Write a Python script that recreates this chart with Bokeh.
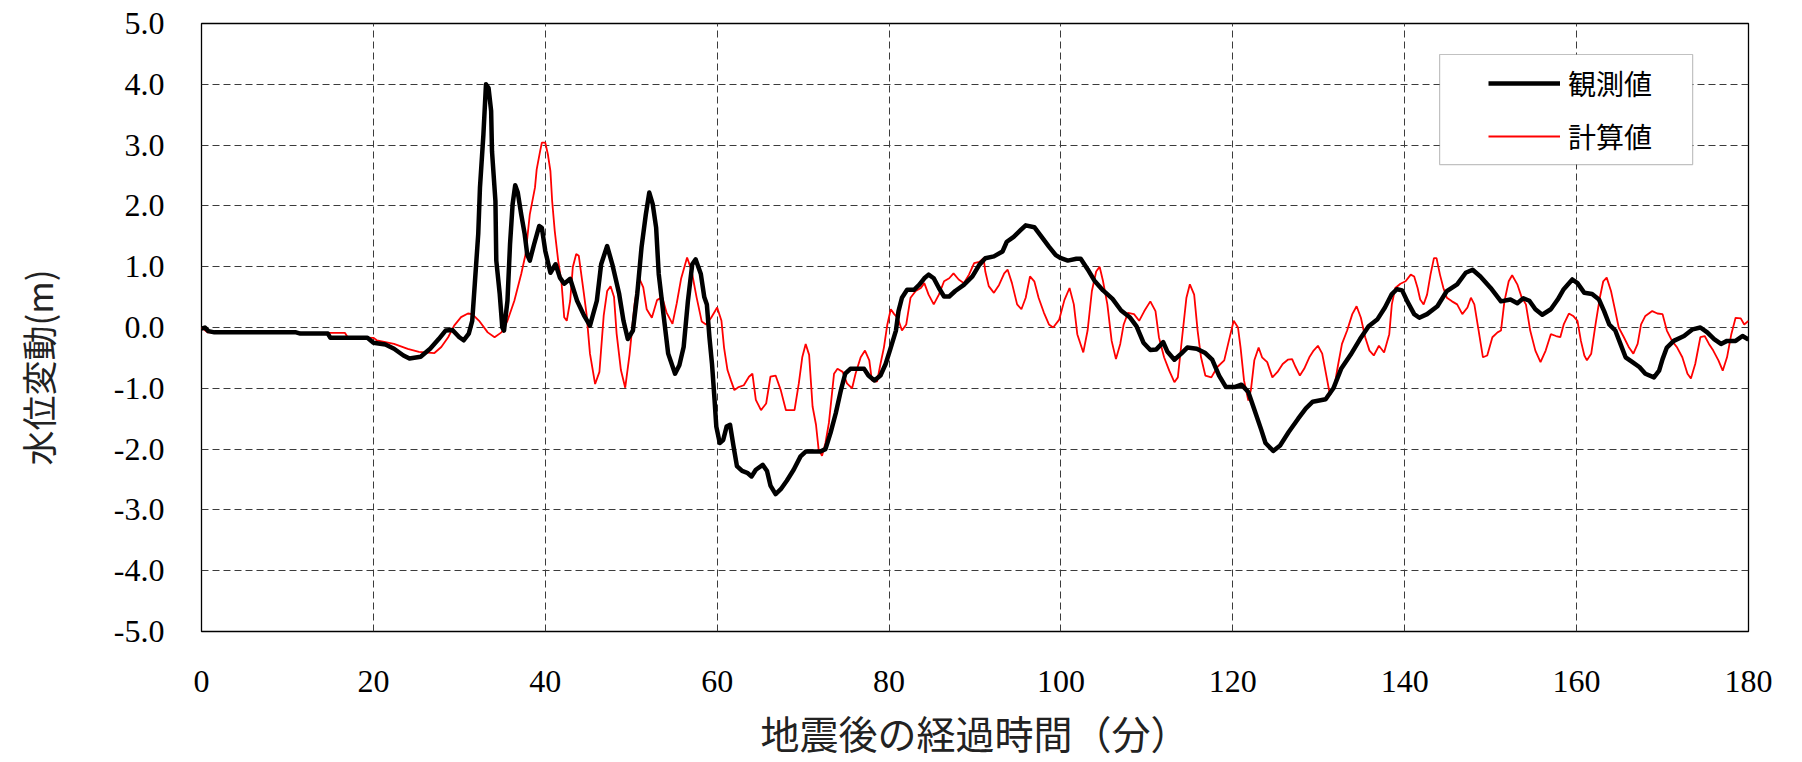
from bokeh.plotting import figure
from bokeh.models import (FixedTicker, PrintfTickFormatter, Legend, LegendItem,
                          BoxAnnotation, Range1d, Title)
from bokeh.embed import file_html
from bokeh.resources import INLINE

# ---- data (minutes after earthquake, water level change in m) ----
obs_t = [0.0, 0.4, 0.8, 1.5, 3.8, 11.0, 11.5, 14.7, 15.0, 19.3, 20.0, 21.4, 22.4, 23.5, 24.2,
         25.5, 26.6, 27.6, 28.4, 29.2, 30.0, 30.5, 31.1, 31.5, 31.8, 32.2, 32.4, 32.8, 33.1,
         33.4, 33.7, 33.8, 34.2, 34.3, 34.7, 35.0, 35.2, 35.6, 35.9, 36.2, 36.5, 36.8, 37.2,
         37.6, 37.9, 38.2, 38.7, 39.3, 39.6, 40.0, 40.6, 41.2, 41.7, 42.2, 42.9, 43.7, 44.5,
         45.2, 46.0, 46.5, 47.2, 47.8, 48.6, 49.1, 49.6, 50.2, 50.7, 51.2, 51.7, 52.1, 52.5,
         52.9, 53.2, 53.8, 54.3, 55.1, 55.6, 56.1, 56.6, 57.1, 57.5, 58.1, 58.5, 58.8, 59.1,
         59.4, 59.7, 59.9, 60.3, 60.7, 61.1, 61.5, 61.9, 62.3, 62.9, 63.5, 64.0, 64.5, 65.3,
         65.8, 66.2, 66.8, 67.4, 68.1, 68.9, 69.7, 70.3, 72.0, 72.6, 73.2, 73.8, 74.4, 74.9,
         75.5, 77.1, 77.6, 78.3, 79.0, 79.6, 80.2, 80.8, 81.1, 81.5, 82.1, 82.9, 83.5, 84.1,
         84.6, 85.2, 85.8, 86.4, 87.0, 87.7, 88.7, 89.7, 90.5, 91.2, 92.2, 93.2, 93.7, 94.5,
         95.3, 95.9, 96.9, 97.6, 98.6, 99.4, 100.0, 100.8, 101.8, 102.3, 103.1, 103.9, 104.9,
         106.0, 107.0, 108.0, 108.8, 109.6, 110.4, 111.1, 111.9, 112.4, 113.2, 114.0, 114.7,
         115.8, 116.8, 117.6, 118.4, 119.2, 120.2, 121.0, 121.8, 122.5, 123.3, 123.8, 124.7,
         125.5, 126.5, 127.6, 128.5, 129.3, 130.8, 131.7, 132.6, 133.7, 134.8, 135.8, 136.8,
         137.7, 138.5, 139.1, 139.7, 140.3, 141.1, 141.7, 142.6, 143.8, 144.9, 146.1, 147.1,
         147.9, 148.8, 150.0, 151.2, 152.3, 153.1, 153.8, 154.5, 155.2, 156.0, 157.0, 157.8,
         158.5, 159.5, 160.1, 160.9, 161.8, 162.6, 163.2, 163.8, 164.5, 165.1, 165.7, 166.5,
         167.3, 168.0, 169.0, 169.6, 170.0, 170.5, 171.3, 172.5, 173.5, 174.4, 175.2, 176.0,
         176.8, 177.5, 178.5, 179.3, 180.0]
obs_v = [-0.02, 0.0, -0.06, -0.08, -0.08, -0.08, -0.1, -0.1, -0.17, -0.17, -0.25, -0.28, -0.35,
         -0.46, -0.51, -0.48, -0.35, -0.19, -0.05, -0.04, -0.16, -0.21, -0.1, 0.11, 0.72, 1.54,
         2.3, 3.17, 4.0, 3.94, 3.56, 2.9, 2.08, 1.1, 0.55, 0.0, -0.05, 0.44, 1.37, 2.03, 2.34,
         2.22, 1.86, 1.54, 1.2, 1.1, 1.37, 1.67, 1.64, 1.26, 0.9, 1.04, 0.82, 0.72, 0.8, 0.44,
         0.2, 0.03, 0.44, 1.04, 1.34, 1.04, 0.55, 0.11, -0.19, -0.05, 0.55, 1.32, 1.86, 2.22,
         2.03, 1.64, 0.88, 0.16, -0.43, -0.76, -0.62, -0.32, 0.44, 1.04, 1.12, 0.88, 0.5, 0.38,
         -0.16, -0.6, -1.2, -1.63, -1.9, -1.85, -1.63, -1.6, -1.95, -2.28, -2.36, -2.39, -2.45,
         -2.34, -2.26, -2.36, -2.6, -2.74, -2.66, -2.52, -2.34, -2.12, -2.04, -2.04, -2.0,
         -1.73, -1.41, -1.03, -0.76, -0.68, -0.68, -0.79, -0.87, -0.79, -0.6, -0.33, -0.05,
         0.27, 0.49, 0.62, 0.62, 0.7, 0.81, 0.87, 0.81, 0.65, 0.51, 0.51, 0.6, 0.7, 0.84, 1.03,
         1.14, 1.17, 1.25, 1.41, 1.49, 1.6, 1.68, 1.65, 1.52, 1.33, 1.19, 1.14, 1.1, 1.13, 1.13,
         0.96, 0.77, 0.61, 0.47, 0.28, 0.17, 0.02, -0.25, -0.37, -0.36, -0.24, -0.4, -0.53,
         -0.43, -0.33, -0.35, -0.42, -0.53, -0.79, -0.98, -0.98, -0.94, -1.06, -1.35, -1.68,
         -1.9, -2.03, -1.94, -1.72, -1.5, -1.33, -1.22, -1.18, -1.0, -0.68, -0.45, -0.19, 0.02,
         0.13, 0.33, 0.55, 0.63, 0.61, 0.43, 0.22, 0.16, 0.22, 0.35, 0.6, 0.71, 0.9, 0.95, 0.84,
         0.65, 0.43, 0.46, 0.4, 0.48, 0.44, 0.3, 0.21, 0.3, 0.46, 0.63, 0.79, 0.73, 0.57, 0.55,
         0.46, 0.27, 0.05, -0.05, -0.27, -0.49, -0.57, -0.65, -0.76, -0.82, -0.71, -0.52, -0.33,
         -0.22, -0.14, -0.03, 0.0, -0.08, -0.19, -0.27, -0.22, -0.22, -0.14, -0.2]

calc_t = [0.0, 0.7, 3.8, 16.7, 17.0, 20.0, 20.4, 22.4, 24.0, 25.3, 27.1, 27.9, 28.7, 29.4, 30.2,
          31.0, 31.5, 32.3, 33.3, 34.1, 34.9, 35.6, 36.4, 37.2, 37.7, 38.2, 38.8, 39.0, 39.4,
          39.6, 40.0, 40.3, 40.6, 40.8, 41.1, 41.5, 41.9, 42.2, 42.5, 42.9, 43.2, 43.6, 43.9,
          44.5, 44.8, 45.2, 45.8, 46.3, 46.8, 47.2, 47.6, 48.0, 48.3, 48.8, 49.3, 49.8, 50.4,
          50.9, 51.4, 51.8, 52.4, 53.0, 53.6, 54.1, 54.8, 55.3, 55.8, 56.5, 57.0, 57.6, 58.2,
          58.7, 59.3, 60.0, 60.5, 60.8, 61.2, 61.6, 62.0, 62.5, 63.1, 63.7, 64.1, 64.5, 65.1,
          65.7, 66.2, 66.8, 67.4, 68.0, 69.0, 69.5, 69.9, 70.3, 70.7, 71.1, 71.5, 71.8, 72.2,
          72.6, 73.0, 73.4, 73.6, 74.0, 74.6, 75.1, 75.7, 76.1, 76.7, 77.2, 77.7, 78.0, 78.6,
          79.0, 79.4, 79.8, 80.2, 80.6, 81.0, 81.5, 82.0, 82.5, 83.1, 83.7, 84.1, 84.6, 85.2,
          85.8, 86.4, 87.0, 87.5, 88.1, 88.7, 89.3, 89.9, 90.5, 91.0, 91.2, 91.6, 92.2, 92.8,
          93.4, 93.8, 94.3, 94.9, 95.4, 95.9, 96.4, 96.9, 97.4, 98.0, 98.6, 99.1, 99.8, 100.4,
          101.0, 101.5, 101.9, 102.6, 103.1, 103.6, 104.1, 104.5, 104.9, 105.4, 105.9, 106.4,
          106.9, 107.3, 107.8, 108.5, 109.1, 109.7, 110.4, 111.0, 111.4, 112.0, 112.6, 113.2,
          113.6, 114.1, 114.6, 115.0, 115.5, 115.9, 116.3, 116.8, 117.5, 118.2, 119.0, 119.5,
          120.1, 120.6, 120.9, 121.3, 121.8, 122.1, 122.5, 123.0, 123.4, 124.0, 124.6, 125.2,
          125.8, 126.4, 126.9, 127.3, 127.8, 128.3, 128.9, 129.4, 129.9, 130.4, 130.8, 131.3,
          131.8, 132.2, 132.7, 133.3, 133.9, 134.4, 134.9, 135.4, 135.9, 136.4, 137.0, 137.6,
          138.2, 138.5, 138.9, 139.5, 140.1, 140.7, 141.1, 141.5, 141.8, 142.2, 142.6, 143.0,
          143.4, 143.7, 144.1, 144.5, 144.9, 145.5, 146.1, 146.7, 147.3, 147.7, 148.1, 148.6,
          149.1, 149.6, 150.2, 150.8, 151.2, 151.6, 152.1, 152.5, 153.1, 153.6, 154.1, 154.6,
          155.2, 155.8, 156.4, 157.0, 157.6, 158.1, 158.5, 159.1, 159.6, 160.1, 160.5, 160.9,
          161.2, 161.7, 162.2, 162.7, 163.1, 163.5, 164.0, 164.5, 164.9, 165.5, 166.1, 166.6,
          167.1, 167.5, 168.0, 168.8, 169.4, 170.0, 170.5, 171.1, 171.7, 172.3, 172.9, 173.3,
          173.8, 174.4, 174.9, 175.4, 175.9, 176.5, 177.0, 177.5, 178.0, 178.5, 179.1, 179.5,
          180.0]
calc_v = [0.0, -0.08, -0.09, -0.09, -0.16, -0.17, -0.21, -0.27, -0.35, -0.4, -0.42, -0.32, -0.16,
          0.03, 0.17, 0.23, 0.22, 0.11, -0.08, -0.16, -0.08, 0.11, 0.44, 0.88, 1.2, 1.86, 2.3,
          2.6, 2.9, 3.04, 3.04, 2.85, 2.57, 2.08, 1.59, 1.1, 0.72, 0.17, 0.11, 0.44, 0.99, 1.21,
          1.18, 0.55, 0.22, -0.43, -0.93, -0.73, 0.2, 0.6, 0.68, 0.5, -0.1, -0.7, -0.99, -0.45,
          0.4, 0.82, 0.66, 0.3, 0.16, 0.45, 0.5, 0.25, 0.06, 0.4, 0.8, 1.15, 0.95, 0.5, 0.1,
          0.05, 0.16, 0.33, 0.11, -0.33, -0.7, -0.87, -1.03, -0.98, -0.95, -0.81, -0.76, -1.19,
          -1.36, -1.25, -0.81, -0.79, -1.03, -1.36, -1.36, -0.92, -0.49, -0.27, -0.45, -1.3,
          -1.6, -2.0, -2.11, -1.9, -1.57, -1.03, -0.76, -0.68, -0.73, -0.92, -1.0, -0.76, -0.49,
          -0.38, -0.54, -0.87, -0.89, -0.6, -0.33, 0.05, 0.3, 0.22, 0.16, -0.05, 0.05, 0.49, 0.6,
          0.65, 0.73, 0.54, 0.38, 0.54, 0.76, 0.81, 0.89, 0.79, 0.73, 0.87, 1.06, 1.08, 1.14,
          0.92, 0.68, 0.57, 0.7, 0.89, 0.95, 0.73, 0.38, 0.3, 0.49, 0.84, 0.76, 0.49, 0.25, 0.05,
          0.0, 0.13, 0.45, 0.65, 0.38, -0.11, -0.41, -0.05, 0.6, 0.92, 1.0, 0.76, 0.38, -0.22,
          -0.52, -0.27, 0.05, 0.24, 0.22, 0.11, 0.27, 0.43, 0.27, -0.16, -0.49, -0.71, -0.9,
          -0.82, -0.16, 0.49, 0.71, 0.54, -0.05, -0.49, -0.79, -0.82, -0.65, -0.54, -0.24, 0.11,
          0.0, -0.33, -0.87, -1.2, -1.03, -0.54, -0.33, -0.49, -0.57, -0.82, -0.73, -0.6, -0.53,
          -0.52, -0.65, -0.79, -0.68, -0.49, -0.38, -0.3, -0.43, -0.73, -1.11, -0.98, -0.65,
          -0.27, -0.05, 0.22, 0.35, 0.16, -0.16, -0.38, -0.46, -0.3, -0.41, -0.11, 0.38, 0.65,
          0.72, 0.76, 0.87, 0.84, 0.65, 0.46, 0.38, 0.54, 0.87, 1.14, 1.14, 0.87, 0.65, 0.49,
          0.43, 0.38, 0.22, 0.33, 0.49, 0.38, -0.05, -0.49, -0.46, -0.16, -0.08, -0.05, 0.43,
          0.76, 0.86, 0.71, 0.5, 0.38, -0.05, -0.38, -0.57, -0.38, -0.11, -0.14, -0.16, 0.05,
          0.23, 0.19, 0.11, -0.22, -0.46, -0.54, -0.43, 0.05, 0.49, 0.76, 0.82, 0.6, 0.27, 0.0,
          -0.16, -0.33, -0.43, -0.27, 0.05, 0.19, 0.27, 0.23, 0.22, -0.05, -0.22, -0.33, -0.49,
          -0.76, -0.84, -0.6, -0.16, -0.14, -0.27, -0.38, -0.54, -0.71, -0.49, -0.11, 0.16,
          0.15, 0.05, 0.11]

x_ticks = [0, 20, 40, 60, 80, 100, 120, 140, 160, 180]
y_ticks = [-5, -4, -3, -2, -1, 0, 1, 2, 3, 4, 5]
series_labels = ["観測値", "計算値"]
x_title = "地震後の経過時間（分）"
y_title = "水位変動(m)"

SERIF = "Liberation Serif"
JP = "Noto Sans CJK JP"

p = figure(width=1796, height=762, output_backend="svg", toolbar_location=None,
           x_range=Range1d(0, 180), y_range=Range1d(-5, 5),
           min_border_left=201, min_border_right=48, min_border_top=23,
           min_border_bottom=131)
p.background_fill_color = "white"
p.border_fill_color = "white"
p.outline_line_color = "black"
p.outline_line_width = 1.3

for ax in (p.xaxis[0], p.yaxis[0]):
    ax.axis_line_color = None
    ax.major_tick_line_color = None
    ax.minor_tick_line_color = None
    ax.major_tick_in = 0
    ax.major_tick_out = 0
    ax.major_label_text_font = SERIF
    ax.major_label_text_font_size = "32px"
    ax.major_label_text_color = "black"
    ax.axis_label_text_font = JP
    ax.axis_label_text_font_style = "normal"
    ax.axis_label_text_color = "#222222"

p.xaxis[0].ticker = FixedTicker(ticks=x_ticks)
p.yaxis[0].ticker = FixedTicker(ticks=y_ticks)
p.yaxis[0].formatter = PrintfTickFormatter(format="%.1f")
p.xaxis[0].major_label_standoff = 39
p.yaxis[0].major_label_standoff = 37
p.xaxis[0].axis_label = x_title
p.xaxis[0].axis_label_text_font_size = "39px"
p.xaxis[0].axis_label_standoff = 9

# vertical axis title: starts 166px above the frame bottom (slightly below centre,
# as in the original); one-sided padding pushes it away from the tick labels
ytitle = Title(text=y_title, align="left", offset=166, standoff=0,
               padding=dict(left=0, right=0, top=0, bottom=48),
               text_font=JP, text_font_size="35px", text_font_style="normal",
               text_color="#222222")
p.add_layout(ytitle, "left")

for g in (p.xgrid[0], p.ygrid[0]):
    g.grid_line_color = "#3c3c3c"
    g.grid_line_dash = "7 4"
    g.grid_line_width = 1
p.xgrid[0].ticker = FixedTicker(ticks=x_ticks)
p.ygrid[0].ticker = FixedTicker(ticks=y_ticks)

r_calc = p.line(calc_t, calc_v, line_color="#ff0000", line_width=1.8)
r_obs = p.line(obs_t, obs_v, line_color="black", line_width=4.5, line_join="round")

# legend frame
box = BoxAnnotation(left=144.06, right=173.5, top=4.49, bottom=2.68,
                    fill_color="white", fill_alpha=1.0,
                    line_color="#333333", line_width=1.2)
p.add_layout(box)

legend = Legend(items=[LegendItem(label=series_labels[0], renderers=[r_obs]),
                       LegendItem(label=series_labels[1], renderers=[r_calc])],
                location=(1287, 475), padding=0, margin=0, spacing=13,
                glyph_width=72, glyph_height=30, label_height=30,
                label_standoff=8, border_line_color=None,
                background_fill_alpha=0.0,
                label_text_font=JP, label_text_font_size="28px",
                label_text_color="black")
p.add_layout(legend)

open("out.html", "w").write(file_html(p, INLINE))
